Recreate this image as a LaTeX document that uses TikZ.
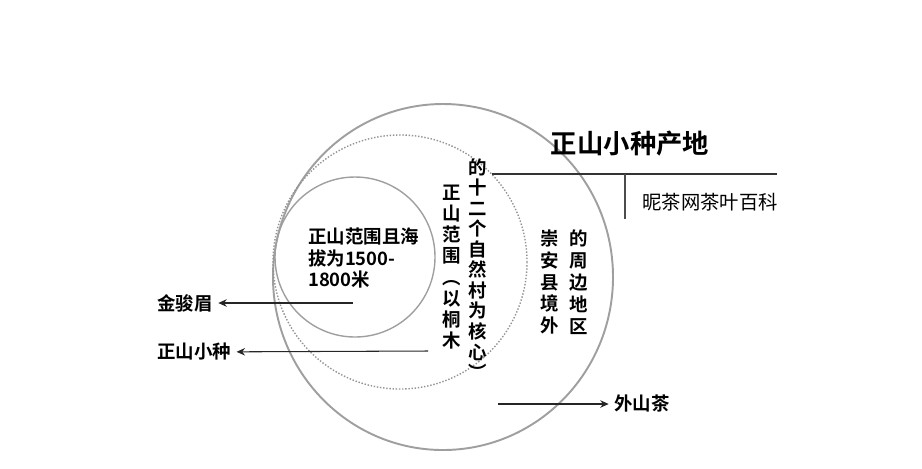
\documentclass[tikz,border=0pt]{standalone}
\usepackage{fontspec}
\setmainfont{Noto Sans CJK SC}[BoldFont={Noto Sans CJK SC Bold}]
\usetikzlibrary{arrows.meta,positioning}
\tikzset{
  diagarr/.style={-{Stealth[length=1.7mm, width=1.5mm]}, semithick, draw=black!85},
  ring/.style={draw=gray!75, line width=0.8pt},
}

\begin{document}
\begin{tikzpicture}[
  x=0.02cm, y=-0.02cm,
  lbl/.style={font=\bfseries\fontsize{10.5}{12}\selectfont, inner sep=3pt},
  vtxt/.style={font=\bfseries\fontsize{10.5}{12.1}\selectfont, align=center, inner sep=0pt},
]
  \useasboundingbox (0,0) rectangle (922,468);
  % rings
  \draw[ring, line width=1.1pt] (443,277) ellipse [x radius=170, y radius=173];
  \draw[ring, densely dotted, draw=gray!85] (400,262) circle [radius=127];
  \draw[ring] (355,257) circle [radius=80];
  % title block
  \node[font=\bfseries\fontsize{15}{17}\selectfont] (title) at (630,144) {正山小种产地};
  \coordinate (ln-a) at (492,174);
  \coordinate (ln-b) at (777,174);
  \coordinate (ln-c) at (625,174);
  \coordinate (ln-d) at (625,219);
  \draw[semithick, draw=black!80] (ln-a) -- (ln-b);
  \draw[semithick, draw=black!70] (ln-c) -- (ln-d);
  \node[font=\fontsize{11}{13}\selectfont] (src) at (710,202) {昵茶网茶叶百科};
  % texts inside
  \node[font=\bfseries\fontsize{10.5}{12.2}\selectfont, align=left, anchor=west] (core) at (302,258)
    {正山范围且海\\拔为1500-\\1800米};
  \node[vtxt] (col1) at (452,267) {正\\山\\范\\围\\︵\\以\\桐\\木};
  \node[vtxt, font=\bfseries\fontsize{10.5}{11.7}\selectfont] (col2) at (478,269)
    {的\\十\\二\\个\\自\\然\\村\\为\\核\\心\\︶};
  \node[vtxt, font=\bfseries\fontsize{10.5}{12.5}\selectfont] (col3) at (550,282) {崇\\安\\县\\境\\外};
  \node[vtxt, font=\bfseries\fontsize{10.5}{12.5}\selectfont] (col4) at (579,282) {的\\周\\边\\地\\区};
  % labels
  \node[lbl] (jjm) at (185,303) {金骏眉};
  \node[lbl] (zsxz) at (194,352) {正山小种};
  \node[lbl] (wsc) at (642,404) {外山茶};
  \coordinate (jjm-s) at (353,303);
  \coordinate (zsxz-s) at (428,351);
  \coordinate (wsc-s) at (498,404);
  \draw[diagarr] (jjm-s) -- (jjm);
  \draw[diagarr] (zsxz-s) -- (zsxz);
  \draw[diagarr] (wsc-s) -- (wsc);
\end{tikzpicture}
\end{document}
